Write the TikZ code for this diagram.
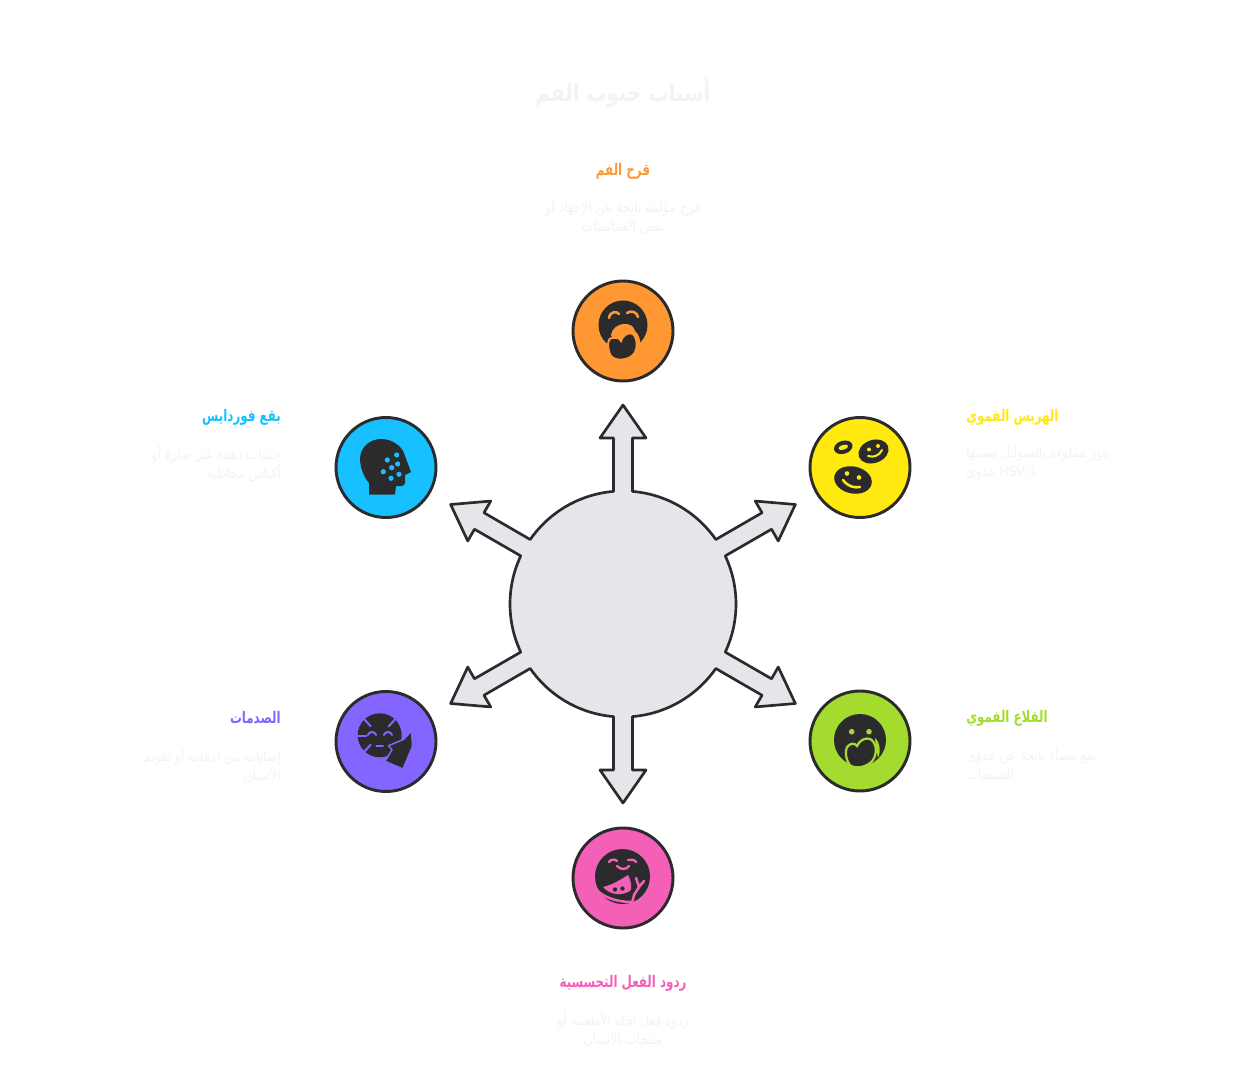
\documentclass[tikz,border=0pt]{standalone}
\usepackage{fontspec}
\usepackage{graphicx}
\newfontfamily\arabicfont[Script=Arabic]{DejaVu Sans}
\TeXXeTstate=1
\newcommand{\ar}[1]{{\arabicfont\beginR #1\endR}}
\newcommand{\arH}[1]{\scalebox{.74}[1]{\ar{#1}}}
\newcommand{\arD}[1]{\scalebox{.88}[1]{\ar{#1}}}
\definecolor{ink}{HTML}{2B2B2E}
\definecolor{hub}{HTML}{E6E5E9}
\definecolor{faint}{HTML}{F3F3F5}
\definecolor{cOrange}{HTML}{FF9833}
\definecolor{cYellow}{HTML}{FFE90F}
\definecolor{cGreen}{HTML}{A3DB2E}
\definecolor{cPink}{HTML}{F45FB8}
\definecolor{cPurple}{HTML}{8465FF}
\definecolor{cBlue}{HTML}{17C1FF}
\tikzset{
  disc/.style={circle,draw=ink,line width=2.2pt,minimum size=75pt,inner sep=0pt,fill=#1},
  star/.style={draw=ink,fill=hub,line width=2pt,line join=round},
  head/.style={font=\fontsize{12}{14}\selectfont\bfseries,inner sep=0pt},
  desc/.style={font=\fontsize{10.5}{14.25}\selectfont,text=faint,inner sep=0pt},
  titletext/.style={font=\fontsize{18}{22}\selectfont\bfseries,text=faint,inner sep=0pt},
  ic/.style={fill=ink,draw=none},
  cut/.style={draw=#1,line width=1.5pt,line cap=round,fill=none}
}
\begin{document}
\begin{tikzpicture}[x=0.75pt,y=0.75pt,yscale=-1]
\useasboundingbox[fill=white] (0,0) rectangle (1246,1080);

% central hub with six arrows
\coordinate (hubc) at (623,604);
\draw[star,shift={(hubc)}]
  (94.8:113)
  \foreach \a in {90,30,-30,-90,-150,-210}{
    -- ({\a+4.8}:113) -- ({\a+3.28}:166.3) -- ({\a+7.89}:167.6) -- (\a:199)
    -- ({\a-7.89}:167.6) -- ({\a-3.28}:166.3) -- ({\a-4.8}:113)
    arc[start angle={\a-4.8},end angle={\a-55.2},radius=113]
  } -- cycle;

% satellite discs
\node[disc=cOrange] (sTop)  at (623,331) {};
\node[disc=cYellow] (sTR)   at (860,467.5) {};
\node[disc=cGreen]  (sBR)   at (860,741) {};
\node[disc=cPink]   (sBot)  at (623,878) {};
\node[disc=cPurple] (sBL)   at (386,741.5) {};
\node[disc=cBlue]   (sTL)   at (386,467.5) {};

% orange icon
\fill[ink] (623,325) circle (24.5);
\draw[cut=cOrange,line width=1.9pt] (609,318) .. controls (610,311) and (617,311) .. (619,314);
\draw[cut=cOrange,line width=1.9pt] (627,313) .. controls (631,310) and (637,312) .. (638,317);
\fill[cOrange] (611,335) .. controls (613,322) and (633,320) .. (635,331) .. controls (640,335) and (642,345) .. (639,352)
  -- (632,340) -- (614,340) -- cycle;
\draw[ic,draw=cOrange,line width=1.5pt] (612,338) .. controls (606,338) and (608,352) .. (611,356)
  .. controls (616,362) and (628,360) .. (633,355) .. controls (638,350) and (638,339) .. (633,334)
  .. controls (629,331) and (622,336) .. (621,341) .. controls (619,337) and (616,338) .. (612,338) -- cycle;

% yellow icon
\fill[ink,rotate around={-17:(843.3,447.3)}] (843.3,447.3) ellipse (9.5 and 6.5);
\fill[cYellow,rotate around={-17:(843.3,447.3)}] (843.3,447.3) ellipse (5 and 2.4);
\fill[ink,rotate around={-20:(873.5,451.5)}] (873.5,451.5) ellipse (15.5 and 11.5);
\fill[cYellow] (869,449.5) circle (2) (878,446) circle (2);
\draw[cut=cYellow] (868,456) .. controls (874,458) and (880,455) .. (882,450);
\fill[ink,rotate around={12:(853,480)}] (853,480) ellipse (19 and 13.5);
\fill[cYellow] (847,473.5) circle (2.3) (859,477.5) circle (2.3);
\draw[cut=cYellow,line width=1.9pt] (843,480) .. controls (848,487) and (855,488) .. (860,487);

% green icon
\fill[ink] (860,740) circle (26);
\fill[cGreen] (851.7,731.7) circle (2.8) (869,731.7) circle (2.8);
\draw[ic,draw=cGreen,line width=1.7pt] (848,746) .. controls (844,750) and (846,762) .. (851,766)
  .. controls (857,769) and (868,767) .. (873,760) .. controls (878,752) and (876,742) .. (870,739)
  .. controls (865,737) and (859,741) .. (857,746) .. controls (855,743) and (851,743) .. (848,746) -- cycle;
\fill[cGreen] (875,738) .. controls (880,742) and (881,752) .. (878,758) -- (876,748) -- cycle;

% blue icon
\fill[ink] (369,494.5) -- (369,483) .. controls (364,477) and (360,468) .. (360,458)
  .. controls (361,445) and (372,439) .. (381,439) .. controls (393,439) and (403,447) .. (405,456)
  -- (411,472) -- (405,475) -- (405,483) .. controls (404,487) and (400,486) .. (396,486)
  -- (395,494.5) -- cycle;
\fill[cBlue] (396.7,455) circle (2.6) (387.3,460) circle (2.6) (397.7,464) circle (2.6)
  (391.7,467.7) circle (2.6) (383.3,471.7) circle (2.6) (399,474.3) circle (2.6) (391,478.3) circle (2.6);

% purple icon
\fill[ink] (379.7,735.3) circle (22);
\draw[cut=cPurple] (364.7,719.7) -- (370.7,726.3);
\draw[cut=cPurple] (394.7,719.7) -- (388.7,726.3);
\draw[cut=cPurple] (358,736.3) -- (366.3,736.3);
\draw[cut=cPurple] (364.7,751.3) -- (370.7,744.7);
\draw[cut=cPurple] (368,735) .. controls (369,731) and (375,731) .. (376,735);
\draw[cut=cPurple] (384,735) .. controls (385,731) and (391,731) .. (392,735);
\draw[cut=cPurple] (376.3,746.3) -- (383,746.3);
\draw[ic,draw=cPurple,line width=1.1pt,line join=round] (411.5,731) -- (412.5,746.3) -- (403,769) -- (385,761.3)
  -- (392,749.7) -- (388.5,745.7) -- (403.7,739.3) -- cycle;

% pink icon
\fill[ink] (622.5,876.5) circle (27.5);
\draw[cut=cPink,line width=1.8pt] (609,862) .. controls (611,859) and (615,859) .. (617,861);
\draw[cut=cPink,line width=1.8pt] (628,860) .. controls (631,859) and (635,860) .. (636,862);
\draw[cut=cPink,line width=1.8pt] (617,866) .. controls (621,870) and (626,870) .. (629,866);
\fill[cPink] (603,887) .. controls (612,885) and (622,879) .. (628,875) .. controls (632,883) and (632,889) .. (630,891)
  .. controls (620,897) and (609,894) .. (603,887) -- cycle;
\fill[ink] (615,889.5) circle (2.2) (622.5,888.5) circle (2.2);
\draw[cut=cPink,line width=1.9pt] (596,889) .. controls (602,897) and (617,902) .. (631,902);
\draw[cut=cPink,line width=1.9pt] (636,878) -- (639,887) -- (644,881);
\draw[cut=cPink,line width=1.9pt] (639,887) -- (634,895) -- (632,903);

% title and labels
\node[titletext] (title) at (623,93) {\scalebox{.83}[1]{\ar{أسباب حبوب الفم}}};

\node[head,text=cOrange] (h1) at (623,171) {\arH{قرح الفم}};
\node[desc,align=center] (d1) at (623,217) {\arD{قرح مؤلمة ناتجة عن الإجهاد أو}\\\arD{نقص الفيتامينات}};

\node[head,text=cYellow,anchor=west] (h2) at (966,417) {\arH{الهربس الفموي}};
\node[desc,align=left,anchor=west] (d2) at (966,463.5) {\arD{بثور مملوءة بالسوائل تسببها}\\\arD{\beginL HSV-1\endL{} عدوى}};

\node[head,text=cGreen,anchor=west] (h3) at (966,718) {\arH{القلاع الفموي}};
\node[desc,align=left,anchor=west] (d3) at (966,765.5) {\arD{بقع بيضاء ناتجة عن عدوى}\\\arD{المبيضات}};

\node[head,text=cPink] (h4) at (623,983) {\arH{ردود الفعل التحسسية}};
\node[desc,align=center] (d4) at (623,1029) {\arD{ردود فعل تجاه الأطعمة أو}\\\arD{منتجات الأسنان}};

\node[head,text=cPurple,anchor=east] (h5) at (281,718) {\arH{الصدمات}};
\node[desc,align=right,anchor=east] (d5) at (281,765.5) {\arD{إصابات من لدغات أو تقويم}\\\arD{الأسنان}};

\node[head,text=cBlue,anchor=east] (h6) at (281,417) {\arH{بقع فوردايس}};
\node[desc,align=right,anchor=east] (d6) at (281,463.5) {\arD{حبيبات دهنية غير ضارة أو}\\\arD{أكياس مخاطية}};
\end{tikzpicture}
\end{document}
